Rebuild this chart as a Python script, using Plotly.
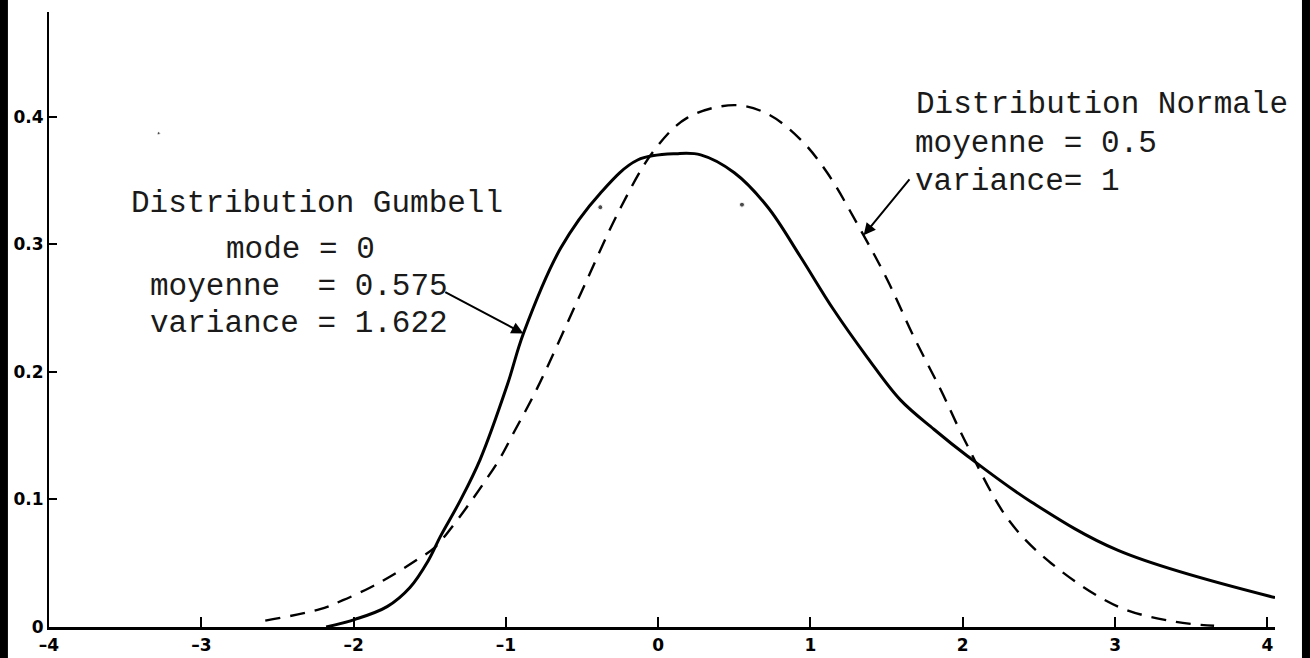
import plotly.graph_objects as go

# ---- data ----
gumbel_x = [-2.18, -1.99, -1.78, -1.63, -1.51, -1.43, -1.30, -1.17, -0.99, -0.885,
            -0.64, -0.38, -0.135, 0.13, 0.279, 0.50, 0.72, 0.935, 1.15, 1.375,
            1.59, 1.81, 2.03, 2.45, 3.02, 4.05]
gumbel_y = [0.0, 0.006, 0.016, 0.031, 0.052, 0.071, 0.099, 0.131, 0.190, 0.230,
            0.297, 0.340, 0.366, 0.371, 0.370, 0.356, 0.329, 0.290, 0.249, 0.211,
            0.178, 0.155, 0.134, 0.098, 0.060, 0.023]

normal_x = [-2.58, -2.22, -2.07, -1.89, -1.74, -1.58, -1.47, -1.35, -1.25, -1.15,
            -1.04, -0.95, -0.795, -0.51, -0.245, -0.03, 0.19, 0.5, 0.72, 0.935,
            1.11, 1.33, 1.505, 1.68, 1.855, 2.01, 2.30, 2.58, 3.02, 3.4, 3.65]
normal_y = [0.005, 0.014, 0.021, 0.031, 0.041, 0.053, 0.062, 0.079, 0.095, 0.112,
            0.132, 0.152, 0.187, 0.261, 0.329, 0.373, 0.399, 0.409, 0.402, 0.382,
            0.356, 0.311, 0.272, 0.227, 0.186, 0.147, 0.084, 0.050, 0.016, 0.004,
            0.001]

specks_x = [-0.38, 0.55, -3.28]
specks_y = [0.329, 0.331, 0.387]

x_ticks = [-4, -3, -2, -1, 0, 1, 2, 3, 4]
x_tick_labels = ["\u20134", "\u20133", "\u20132", "\u20131", "0", "1", "2", "3", "4"]
y_ticks = [0, 0.1, 0.2, 0.3, 0.4]
y_tick_labels = ["0", "0.1", "0.2", "0.3", "0.4"]

gumbel_text = ["Distribution Gumbell", "mode = 0", "moyenne  = 0.575", "variance = 1.622"]
normal_text = ["Distribution Normale", "moyenne = 0.5", "variance= 1"]

fig = go.Figure()
fig.add_trace(go.Scatter(x=normal_x, y=normal_y, mode="lines",
                         line=dict(color="black", width=2.4, dash="15px,10px",
                                   shape="spline", smoothing=1.0),
                         hoverinfo="skip", showlegend=False))
fig.add_trace(go.Scatter(x=gumbel_x, y=gumbel_y, mode="lines",
                         line=dict(color="black", width=3, shape="spline", smoothing=1.0),
                         hoverinfo="skip", showlegend=False))
fig.add_trace(go.Scatter(x=specks_x, y=specks_y, mode="markers",
                         marker=dict(color="black", size=[5, 5, 3]),
                         hoverinfo="skip", showlegend=False))

mono = dict(family="Liberation Mono, Courier New, monospace", size=31, color="#1a1a1a")

# Gumbel block
g_pos = [(-3.477, 0.3318), (-2.853, 0.2957), (-3.352, 0.2667), (-3.352, 0.2376)]
for t, (xx, yy) in zip(gumbel_text, g_pos):
    fig.add_annotation(x=xx, y=yy, xref="x", yref="y", text=t, showarrow=False,
                       xanchor="left", yanchor="middle", font=mono)
# Normal block
n_pos = [(1.677, 0.4094), (1.671, 0.3788), (1.671, 0.3490)]
for t, (xx, yy) in zip(normal_text, n_pos):
    fig.add_annotation(x=xx, y=yy, xref="x", yref="y", text=t, showarrow=False,
                       xanchor="left", yanchor="middle", font=mono)

# arrows
fig.add_annotation(x=-0.885, y=0.230, ax=-1.408, ay=0.263, xref="x", yref="y",
                   axref="x", ayref="y", text="", showarrow=True,
                   arrowhead=2, arrowsize=1.2, arrowwidth=2, arrowcolor="black")
fig.add_annotation(x=1.349, y=0.307, ax=1.658, ay=0.352, xref="x", yref="y",
                   axref="x", ayref="y", text="", showarrow=True,
                   arrowhead=2, arrowsize=1.2, arrowwidth=2, arrowcolor="black")

# scan border bars
fig.add_shape(type="rect", xref="paper", yref="paper", x0=-0.045, x1=-0.0335,
              y0=-0.06, y1=1.03, fillcolor="black", line=dict(width=0))
fig.add_shape(type="rect", xref="paper", yref="paper", x0=1.022, x1=1.03,
              y0=-0.06, y1=1.03, fillcolor="black", line=dict(width=0))

tickfont = dict(family="DejaVu Sans, Liberation Sans, sans-serif", size=17,
                color="black", weight="bold")

fig.update_layout(
    width=1310, height=658,
    margin=dict(l=49, r=35, t=12, b=31, autoexpand=False),
    paper_bgcolor="white", plot_bgcolor="white",
    xaxis=dict(range=[-4, 4.05], showgrid=False, zeroline=False, automargin=False,
               showline=True, linecolor="black", linewidth=2.5,
               ticks="inside", ticklen=10, tickwidth=2, tickcolor="black",
               tickvals=x_ticks, ticktext=x_tick_labels, tickfont=tickfont,
               ticklabelstandoff=1),
    yaxis=dict(range=[0, 0.482], showgrid=False, zeroline=False, automargin=False,
               showline=True, linecolor="black", linewidth=2,
               ticks="inside", ticklen=8, tickwidth=2, tickcolor="black",
               tickvals=y_ticks, ticktext=y_tick_labels, tickfont=tickfont),
)

fig.write_html("out.html",
               config={"displayModeBar": False},
               post_script="document.body.style.margin='0';"
                           "document.body.style.overflow='hidden';")
